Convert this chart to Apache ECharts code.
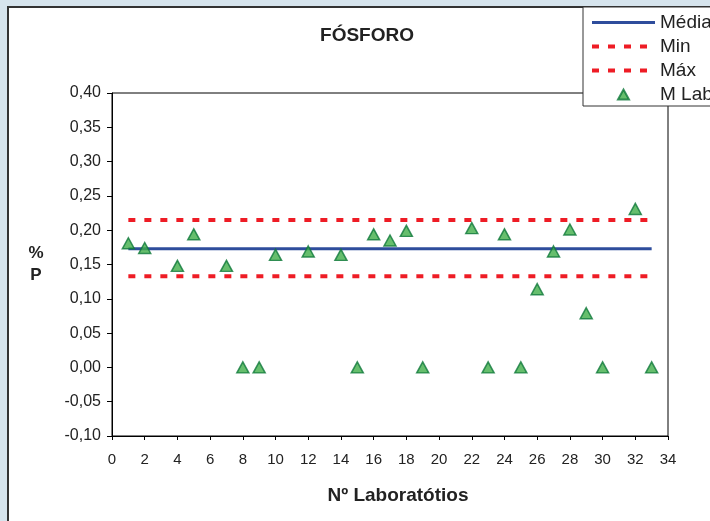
<!DOCTYPE html>
<html>
<head>
<meta charset="utf-8">
<script src="https://cdn.jsdelivr.net/npm/echarts@6/dist/echarts.min.js"></script>
<style>
  html, body { margin: 0; padding: 0; }
  #chart { width: 710px; height: 521px; }
</style>
</head>
<body>
<div id="chart"></div>
<script>
// Nº do laboratório e % P medido
const labs = [1, 2, 4, 5, 7, 8, 9, 10, 12, 14, 15, 16, 17, 18, 19, 22, 23, 24, 25, 26, 27, 28, 29, 30, 32, 33]
const valores = [0.181, 0.174, 0.148, 0.194, 0.148, 0, 0, 0.164, 0.169, 0.164, 0, 0.194, 0.185, 0.199, 0, 0.203, 0, 0.194, 0, 0.114, 0.169, 0.201, 0.079, 0, 0.231, 0]
const faixaX = [1, 33] // linhas de referência
const media = 0.173
const minimo = 0.133
const maximo = 0.215
const yTicks = { min: -0.1, max: 0.4, step: 0.05 }
const xTicks = { min: 0, max: 34, step: 2 }

const fonte = 'Liberation Sans, Arial, sans-serif'
const vermelho = '#ee1c25'
const tracejado = [7, 9]

const myChart = echarts.init(document.getElementById('chart'))

const linha = (nome, v, cor, tipo, largura) => ({
  name: nome,
  type: 'line',
  symbol: 'none',
  silent: true,
  data: faixaX.map(x => [x, v]),
  lineStyle: { color: cor, width: largura, type: tipo },
  itemStyle: { color: cor },
  z: 2
})

// só a linha na legenda, sem o marcador
const semMarcador = { opacity: 0 }
// triângulo pequeno dentro de uma caixa 14x14 (os M extras só marcam a caixa)
const iconeTriangulo = 'path://M0,0 M14,14 M1.5,12 L7,2 L12.5,12 Z'

const option = {
  backgroundColor: '#d6e4ed',
  animation: false,
  textStyle: { fontFamily: fonte },
  graphic: [
    {
      type: 'rect',
      z: -10,
      shape: { x: 8, y: 7, width: 720, height: 530 },
      style: { fill: '#fff', stroke: '#333', lineWidth: 2 }
    }
  ],
  title: {
    text: 'FÓSFORO',
    left: 362,
    top: 21,
    textAlign: 'center',
    textStyle: { fontFamily: fonte, fontSize: 19, fontWeight: 'bold', color: '#222' }
  },
  legend: {
    orient: 'vertical',
    left: 583,
    top: 7,
    padding: [6, 60, 2, 7],
    itemWidth: 63,
    itemHeight: 14,
    itemGap: 5,
    symbolKeepAspect: true,
    backgroundColor: '#fff',
    borderColor: '#333',
    borderWidth: 1,
    borderRadius: 0,
    textStyle: { fontFamily: fonte, fontSize: 19, lineHeight: 19, color: '#222' },
    data: [
      { name: 'Média', itemStyle: semMarcador, lineStyle: { width: 3 } },
      { name: 'Min', itemStyle: semMarcador, lineStyle: { width: 4, type: tracejado } },
      { name: 'Máx', itemStyle: semMarcador, lineStyle: { width: 4, type: tracejado } },
      { name: 'M Lab', icon: iconeTriangulo }
    ]
  },
  grid: {
    left: 112,
    right: 42,
    top: 93,
    bottom: 85,
    show: true,
    borderColor: '#000',
    borderWidth: 1,
    backgroundColor: 'transparent'
  },
  xAxis: {
    type: 'value',
    min: xTicks.min,
    max: xTicks.max,
    interval: xTicks.step,
    name: 'Nº Laboratótios',
    nameLocation: 'middle',
    nameGap: 50,
    nameTextStyle: { fontFamily: fonte, fontSize: 19, fontWeight: 'bold', color: '#222', padding: [0, 0, 0, 16] },
    axisLine: { onZero: false, lineStyle: { color: '#000', width: 1 } },
    axisTick: { show: true, length: 4, lineStyle: { color: '#000' } },
    axisLabel: { fontFamily: fonte, fontSize: 15, color: '#222', margin: 16 },
    splitLine: { show: false }
  },
  yAxis: {
    type: 'value',
    min: yTicks.min,
    max: yTicks.max,
    interval: yTicks.step,
    name: '%\nP',
    nameLocation: 'middle',
    nameRotate: 0,
    nameGap: 76,
    nameTextStyle: { fontFamily: fonte, fontSize: 17, fontWeight: 'bold', color: '#222', lineHeight: 22, align: 'center' },
    axisLine: { lineStyle: { color: '#000', width: 1 } },
    axisTick: { show: true, length: 5, lineStyle: { color: '#000' } },
    axisLabel: {
      fontFamily: fonte,
      fontSize: 16,
      color: '#222',
      margin: 11,
      formatter: v => (Math.abs(v) < 1e-9 ? 0 : v).toFixed(2).replace('.', ',')
    },
    splitLine: { show: false }
  },
  series: [
    linha('Média', media, '#2e4d9c', 'solid', 3),
    linha('Min', minimo, vermelho, tracejado, 4),
    linha('Máx', maximo, vermelho, tracejado, 4),
    {
      name: 'M Lab',
      type: 'scatter',
      symbol: 'triangle',
      symbolSize: [12, 11],
      symbolKeepAspect: true,
      data: labs.map((x, i) => [x, valores[i]]),
      itemStyle: { color: '#40ae48', borderColor: '#0e783a', borderWidth: 1.5 },
      z: 3
    }
  ]
}

option && myChart.setOption(option)
</script>
</body>
</html>
